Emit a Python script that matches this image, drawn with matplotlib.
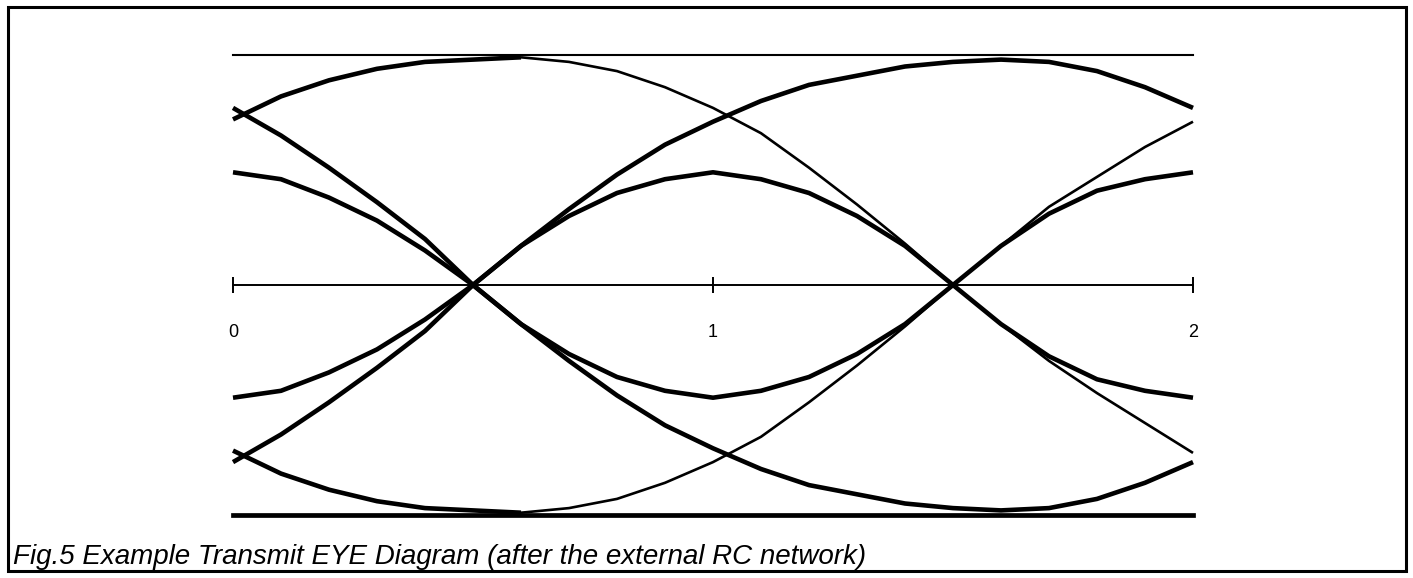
import matplotlib
matplotlib.use("Agg")
import matplotlib.pyplot as plt
from matplotlib.patches import Rectangle

plt.rcParams['font.family'] = ['Liberation Sans', 'DejaVu Sans']

# time axis (unit intervals) and tick labels
x_full = [i / 10 for i in range(21)]      # 0.0 .. 2.0
x_first = x_full[:6]                      # 0.0 .. 0.5
x_late = x_full[5:]                       # 0.5 .. 2.0
tick_pos = [0, 1, 2]
tick_labels = ["0", "1", "2"]

# amplitude levels of the traces (rail = 1)
rail_top = 1.0
rail_bottom = -1.0

# slow rise from 0 to the top, then falls through the second crossing
trace_a = [0.72, 0.82, 0.89, 0.94, 0.97, 0.98, 0.99, 0.97, 0.93, 0.86, 0.77,
           0.66, 0.51, 0.35, 0.18, 0.0, -0.17, -0.33, -0.47, -0.60, -0.73]
trace_a_neg = [-0.72, -0.82, -0.89, -0.94, -0.97, -0.98, -0.99, -0.97, -0.93, -0.86, -0.77,
               -0.66, -0.51, -0.35, -0.18, 0.0, 0.17, 0.34, 0.47, 0.60, 0.71]

# from the first crossing up to the top rail and back down a bit
trace_b = [0.0, 0.17, 0.33, 0.48, 0.61, 0.71, 0.80, 0.87, 0.91, 0.95, 0.97,
           0.98, 0.97, 0.93, 0.86, 0.77]
trace_b_neg = [0.0, -0.17, -0.33, -0.48, -0.61, -0.71, -0.80, -0.87, -0.91, -0.95, -0.97,
               -0.98, -0.97, -0.93, -0.86, -0.77]

# isolated bit: crossing -> inner level at 1 -> crossing -> other inner level
trace_g = [0.0, 0.17, 0.30, 0.40, 0.46, 0.49, 0.46, 0.40, 0.30, 0.17, 0.0,
           -0.17, -0.31, -0.41, -0.46, -0.49]
trace_g_neg = [-v for v in trace_g]

# left half only: into the first crossing
trace_c = [0.77, 0.65, 0.51, 0.36, 0.20, 0.0]
trace_c_neg = [-0.77, -0.65, -0.51, -0.36, -0.20, 0.0]
trace_e = [0.49, 0.46, 0.38, 0.28, 0.15, 0.0]
trace_e_neg = [-0.49, -0.46, -0.38, -0.28, -0.15, 0.0]

caption = "Fig.5 Example Transmit EYE Diagram (after the external RC network)"

W, H = 1413, 578
fig = plt.figure(figsize=(W / 100, H / 100), dpi=100)
ax = fig.add_axes([0, 0, 1, 1])
ax.set_xlim(-233 / 480, (W - 233) / 480)
ax.set_ylim(-293 / 230, 285 / 230)
ax.patch.set_alpha(0)

thick = 3.3
thin = 1.9
k = "black"

ax.plot([x_full[0], x_full[-1]], [rail_top, rail_top], color=k, lw=1.5)
ax.plot([x_full[0], x_full[-1]], [rail_bottom, rail_bottom], color=k, lw=3.4)

ax.plot(x_full[:7], trace_a[:7], color=k, lw=thick, solid_capstyle="butt")
ax.plot(x_full[6:], trace_a[6:], color=k, lw=thin, solid_capstyle="butt")
ax.plot(x_full[:7], trace_a_neg[:7], color=k, lw=thick, solid_capstyle="butt")
ax.plot(x_full[6:], trace_a_neg[6:], color=k, lw=thin, solid_capstyle="butt")

for ys in (trace_b, trace_b_neg, trace_g, trace_g_neg):
    ax.plot(x_late, ys, color=k, lw=thick, solid_capstyle="butt")
for ys in (trace_c, trace_c_neg, trace_e, trace_e_neg):
    ax.plot(x_first, ys, color=k, lw=thick, solid_capstyle="butt")

# the time axis itself
for side in ("left", "right", "top"):
    ax.spines[side].set_visible(False)
ax.spines["bottom"].set_position(("data", 0))
ax.spines["bottom"].set_bounds(tick_pos[0], tick_pos[-1])
ax.spines["bottom"].set_linewidth(1.4)
ax.set_yticks([])
ax.set_xticks(tick_pos)
ax.set_xticklabels(tick_labels)
ax.tick_params(axis="x", direction="inout", length=11.5, width=1.4, pad=22, labelsize=13)

# frame around the whole figure and the caption
fig.patches.append(Rectangle((8 / W, 7 / H), (1406 - 8) / W, (571 - 7) / H,
                             transform=fig.transFigure, fill=False, lw=2.2, color=k))
fig.text(13 / W, 14 / H, caption, fontsize=20, style="italic", va="baseline", ha="left")

fig.savefig("out.png", dpi=100, facecolor="white")
